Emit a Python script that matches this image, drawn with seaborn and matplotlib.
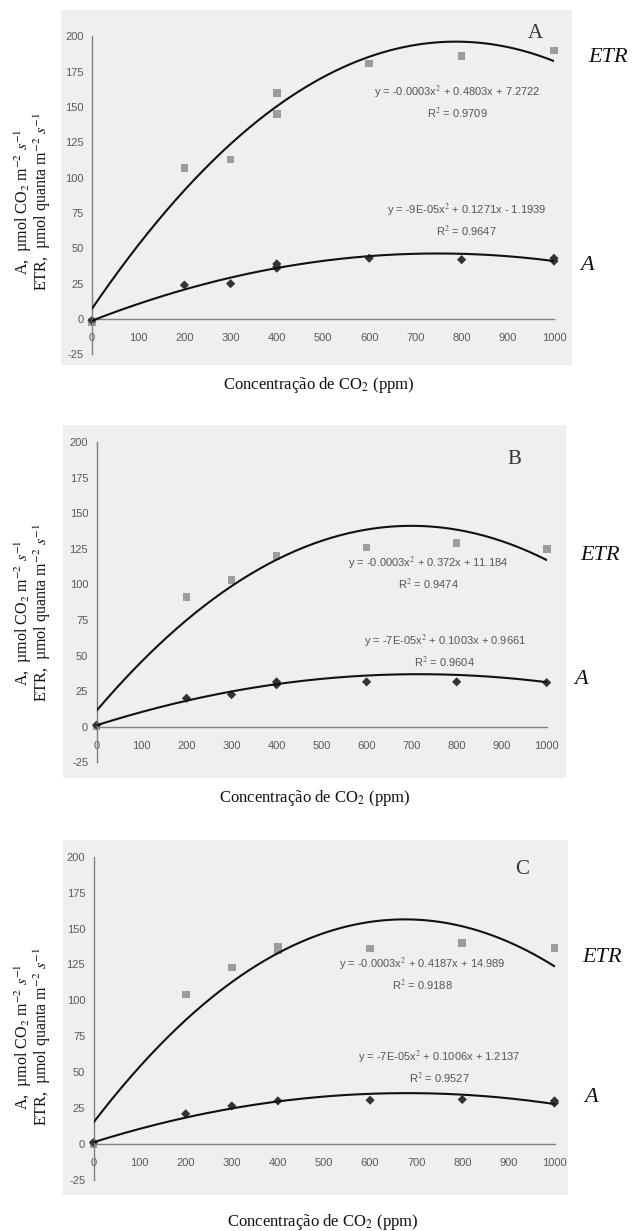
import numpy as np
import pandas as pd
import matplotlib
matplotlib.use("Agg")
import matplotlib.pyplot as plt
from matplotlib.patches import Rectangle
import seaborn as sns

# STYLE
sns.set_style("white")
plt.rcParams["font.family"] = ["Liberation Sans", "DejaVu Sans"]
plt.rcParams["mathtext.fontset"] = "stix"
plt.rcParams["axes.unicode_minus"] = False
SERIF = ["Liberation Serif", "DejaVu Serif"]

W, H = 634, 1231
GRAY_BG = "#efefef"
TICK_COLOR = "#5a5a5a"
SPINE_COLOR = "#808080"
ETR_COLOR = "#9c9c9c"
A_COLOR = "#333333"

# DATA
x_etr_A = [0, 200, 300, 400, 400, 600, 800, 1000]
etr_A = [-2, 107, 113, 160, 145, 181, 186, 190]
x_a_A = [0, 200, 300, 400, 400, 400, 600, 800, 1000, 1000]
a_A = [-1, 24, 25, 39, 37, 36, 43, 42, 43, 41]

x_etr_B = [0, 200, 300, 400, 600, 800, 1000]
etr_B = [0, 91, 103, 120, 126, 129, 125]
x_a_B = [0, 200, 300, 400, 400, 600, 800, 1000]
a_B = [1, 20, 22.5, 31.5, 29.5, 31.5, 31.5, 31]

x_etr_C = [0, 200, 300, 400, 400, 600, 800, 1000]
etr_C = [0, 104, 123, 137, 135, 136, 140, 136.5]
x_a_C = [0, 200, 300, 400, 600, 800, 1000, 1000]
a_C = [1, 21, 26.5, 30, 30.5, 31, 30, 28.5]

# quadratic trend lines (a, b, c) as printed; leading term refined from the drawn curve
fit_etr_A = [-0.000305, 0.4803, 7.2722]
fit_a_A = [-0.0000849, 0.1271, -1.1939]
fit_etr_B = [-0.000266, 0.372, 11.184]
fit_a_B = [-0.00007, 0.1003, 0.9661]
fit_etr_C = [-0.00031, 0.4187, 14.989]
fit_a_C = [-0.000074, 0.1006, 1.2137]

eq_etr = ["y = -0.0003x$^2$ + 0.4803x + 7.2722\nR$^2$ = 0.9709",
          "y = -0.0003x$^2$ + 0.372x + 11.184\nR$^2$ = 0.9474",
          "y = -0.0003x$^2$ + 0.4187x + 14.989\nR$^2$ = 0.9188"]
eq_a = ["y = -9E-05x$^2$ + 0.1271x - 1.1939\nR$^2$ = 0.9647",
        "y = -7E-05x$^2$ + 0.1003x + 0.9661\nR$^2$ = 0.9604",
        "y = -7E-05x$^2$ + 0.1006x + 1.2137\nR$^2$ = 0.9527"]
letters = ["A", "B", "C"]
x_ticks = list(range(0, 1001, 100))
y_ticks = list(range(-25, 201, 25))

# LAYOUT in pixels: axes (left, right, top=200, bottom=-25), grey chart area
panels = [
    dict(ax=(92, 554, 36.5, 354.3), bg=(61, 10, 572, 365), ylab_y=202, xlab=(319, 385),
         etr_lab=(608, 58), a_lab=(587, 265), letter=(959, 202), eq_etr=(790, 153), eq_a=(811, 70)),
    dict(ax=(96.5, 546.7, 442.3, 762.2), bg=(63, 425, 566, 778), ylab_y=613, xlab=(315, 798),
         etr_lab=(600, 555), a_lab=(581, 680), letter=(927, 188), eq_etr=(737, 108), eq_a=(774, 53)),
    dict(ax=(93.5, 554.5, 856.7, 1179.9), bg=(63, 840, 568, 1195), ylab_y=1037, xlab=(323, 1222),
         etr_lab=(602, 958), a_lab=(591, 1098), letter=(929, 191), eq_etr=(713, 118), eq_a=(750, 53)),
]
series = [
    (x_etr_A, etr_A, x_a_A, a_A, fit_etr_A, fit_a_A),
    (x_etr_B, etr_B, x_a_B, a_B, fit_etr_B, fit_a_B),
    (x_etr_C, etr_C, x_a_C, a_C, fit_etr_C, fit_a_C),
]


def fx(x):
    return x / W


def fy(y):
    return 1 - y / H


fig = plt.figure(figsize=(W / 100, H / 100), dpi=100)
fig.patch.set_facecolor("white")

ylabel = ("A,  µmol CO$_2$ m$^{-2}$ $s^{-1}$\n"
          "ETR,  µmol quanta m$^{-2}$ $s^{-1}$")

for i, (p, s) in enumerate(zip(panels, series)):
    x_etr, etr, x_a, a, f_etr, f_a = s
    l, r, t, b = p["ax"]
    bx0, by0, bx1, by1 = p["bg"]
    fig.patches.append(Rectangle((fx(bx0), fy(by1)), fx(bx1 - bx0), (by1 - by0) / H,
                                 transform=fig.transFigure, facecolor=GRAY_BG,
                                 edgecolor="none", zorder=-10))
    ax = fig.add_axes([fx(l), fy(b), fx(r - l), (b - t) / H])
    ax.set_facecolor("none")
    ax.set_zorder(1)

    grid = np.linspace(0, 1000, 201)
    curves = pd.DataFrame({
        "x": np.concatenate([grid, grid]),
        "y": np.concatenate([np.polyval(f_etr, grid), np.polyval(f_a, grid)]),
        "serie": ["ETR"] * len(grid) + ["A"] * len(grid),
    })
    sns.lineplot(data=curves, x="x", y="y", units="serie", estimator=None,
                 color="#111111", linewidth=1.5, ax=ax, zorder=3)

    pts_etr = pd.DataFrame({"x": x_etr, "y": etr})
    pts_a = pd.DataFrame({"x": x_a, "y": a})
    sns.scatterplot(data=pts_etr, x="x", y="y", marker="s", s=30, color=ETR_COLOR,
                    edgecolor="none", ax=ax, zorder=2, clip_on=False)
    sns.scatterplot(data=pts_a, x="x", y="y", marker="D", s=22, color=A_COLOR,
                    edgecolor="none", ax=ax, zorder=2, clip_on=False)

    ax.set_xlim(0, 1000)
    ax.set_ylim(-25, 200)
    ax.set_xticks(x_ticks)
    ax.set_yticks(y_ticks)
    ax.set_xlabel("")
    ax.set_ylabel("")
    for side in ["top", "right"]:
        ax.spines[side].set_visible(False)
    ax.spines["bottom"].set_position(("data", 0))
    for side in ["left", "bottom"]:
        ax.spines[side].set_color(SPINE_COLOR)
        ax.spines[side].set_linewidth(1.0)
    ax.tick_params(axis="x", direction="inout", length=4, width=0.8, color=SPINE_COLOR,
                   labelsize=8, labelcolor=TICK_COLOR, pad=8)
    ax.tick_params(axis="y", direction="out", length=3, width=0.8, color=SPINE_COLOR,
                   labelsize=8, labelcolor=TICK_COLOR, pad=3)

    ax.text(p["eq_etr"][0], p["eq_etr"][1], eq_etr[i], ha="center", va="center",
            fontsize=8, color="#555555", linespacing=1.4)
    ax.text(p["eq_a"][0], p["eq_a"][1], eq_a[i], ha="center", va="center",
            fontsize=8, color="#555555", linespacing=1.4)
    ax.text(p["letter"][0], p["letter"][1], letters[i], ha="center", va="center",
            fontsize=15, family=SERIF, color="#333333")

    fig.text(fx(p["etr_lab"][0]), fy(p["etr_lab"][1]), "ETR", ha="center", va="center",
             fontsize=16, family=SERIF, style="italic", color="#111111")
    fig.text(fx(p["a_lab"][0]), fy(p["a_lab"][1]), "A", ha="center", va="center",
             fontsize=16, family=SERIF, style="italic", color="#111111")
    fig.text(fx(33), fy(p["ylab_y"]), ylabel, rotation=90, ha="center", va="center",
             multialignment="center", fontsize=11.5, family=SERIF, color="#111111",
             linespacing=0.85)
    fig.text(fx(p["xlab"][0]), fy(p["xlab"][1]), "Concentração de CO$_2$ (ppm)",
             ha="center", va="center", fontsize=12, family=SERIF, color="#111111")

fig.savefig("out.png", dpi=100)
